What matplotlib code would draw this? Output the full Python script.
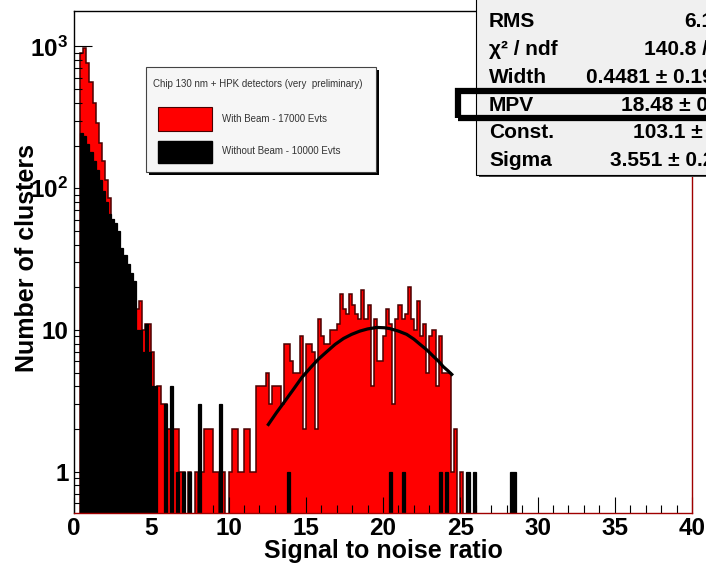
" cluster signal/noise spectrum, with and without beam "
import matplotlib
matplotlib.use("Agg")
import matplotlib.pyplot as plt
from matplotlib.patches import Rectangle
from matplotlib.ticker import FixedLocator, FixedFormatter, LogLocator, NullFormatter, MultipleLocator
import numpy as np

plt.rcParams['font.family'] = ['Liberation Sans', 'DejaVu Sans']
plt.rcParams['font.weight'] = 'bold'
plt.rcParams['mathtext.fontset'] = 'custom'
plt.rcParams['mathtext.rm'] = 'Liberation Sans:bold'
plt.rcParams['mathtext.bf'] = 'Liberation Sans:bold'
plt.rcParams['mathtext.it'] = 'Liberation Sans:bold:italic'

# counts per 0.2 wide S/N bin, starting at 0
bin_width = 0.2
with_beam = [
    0, 0, 900, 980, 760, 560, 400, 290, 210, 155,
    115, 85, 60, 54, 47, 36, 31, 27, 23, 20,
    14, 16, 10, 11, 11, 7, 3, 4, 3, 3,
    2, 2, 2, 2, 1, 1, 0, 1, 0, 1,
    0, 1, 2, 2, 2, 1, 1, 0, 1, 0,
    1, 2, 2, 1, 1, 2, 2, 1, 1, 4,
    4, 4, 5, 3, 4, 4, 4, 3, 8, 8,
    6, 5, 5, 9, 2, 8, 8, 7, 2, 12,
    9, 8, 8, 10, 10, 11, 18, 14, 13, 18,
    15, 13, 12, 19, 12, 15, 4, 12, 6, 6,
    9, 14, 11, 3, 12, 15, 12, 13, 20, 12,
    10, 16, 9, 11, 5, 9, 10, 4, 9, 5,
    5, 5, 1, 2, 0, 1, 0, 0, 0, 0,
    0, 0, 0, 0, 0, 0, 0, 0, 0, 0,
    0, 0, 0, 0, 0, 0, 0, 0, 0, 0,
]
without_beam = [
    0, 0, 245, 235, 205, 180, 155, 135, 115, 95,
    80, 66, 61, 57, 50, 38, 34, 29, 25, 22,
    10, 10, 7, 11, 7, 4, 4, 0, 0, 3,
    0, 4, 0, 1, 0, 1, 0, 1, 0, 0,
    3, 0, 0, 0, 0, 0, 0, 3, 0, 0,
    0, 0, 0, 0, 0, 0, 0, 0, 0, 0,
    0, 0, 0, 0, 0, 0, 0, 0, 0, 1,
    0, 0, 0, 0, 0, 0, 0, 0, 0, 0,
    0, 0, 0, 0, 0, 0, 0, 0, 0, 0,
    0, 0, 0, 0, 0, 0, 0, 0, 0, 0,
    0, 0, 1, 0, 0, 0, 1, 0, 0, 0,
    0, 0, 0, 0, 0, 0, 0, 0, 1, 0,
    1, 0, 0, 0, 0, 0, 0, 1, 0, 1,
    0, 0, 0, 0, 0, 0, 0, 0, 0, 0,
    0, 1, 1, 0, 0, 0, 0, 0, 0, 0,
]

# Landau x Gauss fit to the beam peak
fit_x = [12.58, 13.1, 13.66, 14.2, 14.74, 15.3, 15.81, 16.35, 16.9, 17.45,
         17.97, 18.5, 19.0, 19.6, 20.1, 20.45, 21.0, 21.53, 22.0, 22.4,
         22.85, 23.26, 23.6, 23.9, 24.2, 24.45]
fit_y = [2.15, 2.6, 3.15, 3.8, 4.6, 5.4, 6.2, 7.0, 7.9, 8.7,
         9.3, 9.8, 10.15, 10.4, 10.35, 10.2, 9.8, 9.3, 8.6, 7.9,
         7.2, 6.5, 6.0, 5.5, 5.15, 4.85]

stat_names = ["Mean", "RMS", "χ² / ndf", "Width", "MPV", "Const.", "Sigma"]
stat_values = ["8.274", "6.143", "140.8 / 56", "0.4481 ± 0.1963", "18.48 ± 0.60",
               "103.1 ± 9.7", "3.551 ± 0.287"]

legend_title = "Chip 130 nm + HPK detectors (very  preliminary)"
legend_labels = ["With Beam - 17000 Evts", "Without Beam - 10000 Evts"]

W, H = 706, 567


def box(x0, y0, x1, y1, **kw):
    # rectangle given in pixels, y measured from the top of the canvas
    return Rectangle((x0 / W, 1 - y1 / H), (x1 - x0) / W, (y1 - y0) / H,
                     transform=fig.transFigure, **kw)


def ftext(x, y, s, **kw):
    return fig.text(x / W, 1 - y / H, s, **kw)


fig = plt.figure(figsize=(W / 100, H / 100), dpi=100)
ax = fig.add_axes([74 / W, 1 - 513 / H, (692 - 74) / W, (513 - 11) / H])

edges = np.arange(len(with_beam) + 1) * bin_width
floor = 1e-3
red = np.where(np.array(with_beam) > 0, with_beam, floor)
blk = np.where(np.array(without_beam) > 0, without_beam, floor)
ax.stairs(red, edges, baseline=floor, fill=True, facecolor="#ff0000",
          edgecolor="#4a0000", linewidth=1.1)
ax.stairs(blk, edges, baseline=floor, fill=True, facecolor="black",
          edgecolor="black", linewidth=0.9)
ax.plot(fit_x, fit_y, color="black", lw=2.3, zorder=3)

ax.set_yscale("log")
ax.set_xlim(0, 40)
ax.set_ylim(0.51, 1780)
ax.xaxis.set_major_locator(MultipleLocator(5))
ax.xaxis.set_minor_locator(MultipleLocator(1))
ax.yaxis.set_major_locator(FixedLocator([1, 10, 100, 1000]))
ax.yaxis.set_major_formatter(FixedFormatter(["1", "10", r"$10^{2}$", r"$10^{3}$"]))
ax.yaxis.set_minor_locator(LogLocator(subs=np.arange(2, 10), numticks=20))
ax.yaxis.set_minor_formatter(NullFormatter())
ax.tick_params(axis="both", which="both", direction="in", top=False, right=False,
               width=0.8, labelsize=17.5)
ax.tick_params(axis="x", which="major", length=11.5, pad=3)
ax.tick_params(axis="x", which="minor", length=5.8)
ax.tick_params(axis="y", which="major", length=13, pad=4)
ax.tick_params(axis="y", which="minor", length=6)
for lab in ax.get_xticklabels() + ax.get_yticklabels():
    lab.set_fontweight("bold")
ax.spines["bottom"].set_color("#a00000")
ax.spines["right"].set_color("#a00000")
for s in ax.spines.values():
    s.set_linewidth(1.0)

ftext(383, 551, "Signal to noise ratio", ha="center", va="center", fontsize=18)
ftext(27, 258, "Number of clusters", ha="center", va="center", fontsize=18,
      rotation=90)

# legend
fig.add_artist(box(149, 70, 379, 175, facecolor="black", edgecolor="none"))
fig.add_artist(box(146, 67, 376, 172, facecolor="#f6f6f6", edgecolor="#444444",
                   linewidth=0.8))
ftext(153, 84, legend_title, va="center", fontsize=7, fontweight="normal",
      color="#333333")
fig.add_artist(box(158, 107, 212, 131, facecolor="#ff0000", edgecolor="#4a0000",
                   linewidth=0.8))
fig.add_artist(box(158, 141, 212, 163, facecolor="black", edgecolor="black"))
ftext(222, 119, legend_labels[0], va="center", fontsize=7, fontweight="normal",
      color="#333333")
ftext(222, 151, legend_labels[1], va="center", fontsize=7, fontweight="normal",
      color="#333333")

# fit statistics box
fig.add_artist(box(479, -10, 730, 177, facecolor="#444444", edgecolor="none"))
fig.add_artist(box(476, -10, 730, 175, facecolor="#f0f0f0", edgecolor="black",
                   linewidth=0.8))
for k, (name, val) in enumerate(zip(stat_names, stat_values)):
    y = -6 + 27.8 * k
    ftext(489, y, name, va="center", fontsize=15)
    ftext(737, y, val, va="center", ha="right", fontsize=15)
fig.add_artist(box(458, 90.5, 745, 117.5, fill=False, edgecolor="black",
                   linewidth=4.5, zorder=4))

fig.savefig("out.png", dpi=100)
